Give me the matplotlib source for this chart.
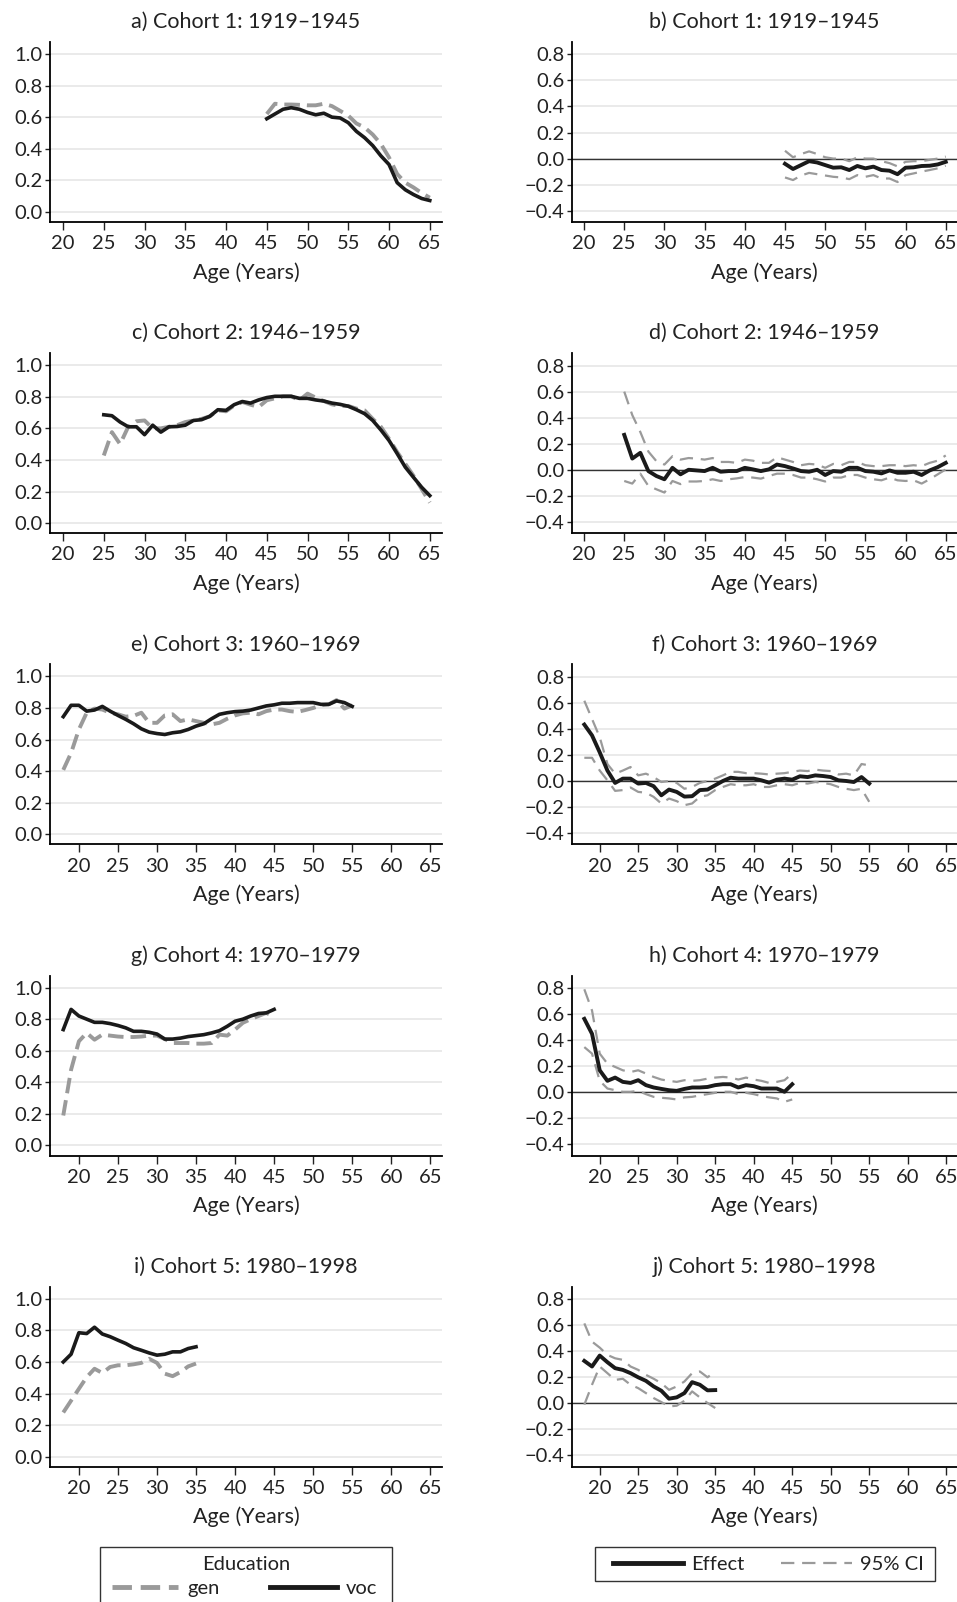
import numpy as np
import matplotlib
matplotlib.use("Agg")
import matplotlib.pyplot as plt
from matplotlib.lines import Line2D
from matplotlib.patches import Rectangle

plt.rcParams['font.family'] = ['Lato', 'DejaVu Sans']

# ---- data ----
ages_a = np.arange(45, 66)
a_voc = [0.59, 0.62, 0.65, 0.66, 0.65, 0.63, 0.615, 0.625, 0.60, 0.595, 0.565,
         0.51, 0.47, 0.42, 0.355, 0.30, 0.185, 0.14, 0.11, 0.085, 0.072]
a_gen = [0.62, 0.685, 0.68, 0.68, 0.678, 0.675, 0.675, 0.685, 0.67, 0.64, 0.61,
         0.56, 0.535, 0.49, 0.43, 0.345, 0.24, 0.185, 0.155, 0.12, 0.09]
b_eff = [-0.04, -0.08, -0.05, -0.02, -0.03, -0.05, -0.07, -0.067, -0.088, -0.057, -0.075,
         -0.062, -0.088, -0.093, -0.12, -0.07, -0.067, -0.057, -0.055, -0.045, -0.025]
b_hi = [0.06, 0.01, 0.035, 0.055, 0.035, 0.01, 0.0, 0.0, -0.02, 0.01, 0.0,
        0.0, -0.02, -0.035, -0.06, -0.025, -0.02, -0.02, -0.01, 0.0, 0.015]
b_lo = [-0.145, -0.165, -0.13, -0.11, -0.12, -0.13, -0.14, -0.145, -0.158, -0.127, -0.14,
        -0.127, -0.153, -0.153, -0.18, -0.127, -0.114, -0.1, -0.088, -0.075, -0.055]

ages_c = np.arange(25, 66)
c_voc = [0.686, 0.68, 0.64, 0.61, 0.61, 0.56, 0.62, 0.576, 0.61, 0.612,
         0.62, 0.65, 0.655, 0.676, 0.718, 0.714, 0.75, 0.77, 0.76, 0.78,
         0.795, 0.803, 0.803, 0.803, 0.79, 0.79, 0.78, 0.773, 0.76, 0.752,
         0.74, 0.718, 0.693, 0.65, 0.59, 0.523, 0.44, 0.354, 0.29, 0.227, 0.174]
c_gen = [0.428, 0.576, 0.50, 0.61, 0.645, 0.65, 0.60, 0.60, 0.61, 0.62,
         0.64, 0.65, 0.66, 0.676, 0.714, 0.708, 0.745, 0.767, 0.75, 0.735,
         0.778, 0.79, 0.803, 0.803, 0.778, 0.82, 0.795, 0.773, 0.752, 0.742,
         0.742, 0.725, 0.714, 0.66, 0.61, 0.534, 0.45, 0.375, 0.30, 0.216, 0.13]
d_eff = [0.268, 0.086, 0.13, -0.01, -0.048, -0.073, 0.015, -0.035, 0.0, -0.005,
         -0.01, 0.015, -0.015, -0.01, -0.01, 0.015, 0.003, -0.01, 0.003, 0.04,
         0.028, 0.01, -0.01, -0.015, 0.0, -0.04, -0.01, -0.015, 0.015, 0.015,
         -0.01, -0.015, -0.028, -0.005, -0.023, -0.023, -0.015, -0.04, -0.005, 0.02, 0.053]
d_hi = [0.60, 0.42, 0.29, 0.14, 0.066, 0.04, 0.104, 0.078, 0.09, 0.086,
        0.078, 0.09, 0.06, 0.06, 0.053, 0.078, 0.07, 0.053, 0.053, 0.096,
        0.078, 0.06, 0.035, 0.045, 0.04, 0.015, 0.045, 0.035, 0.06, 0.06,
        0.035, 0.028, 0.028, 0.035, 0.035, 0.028, 0.035, 0.028, 0.053, 0.07, 0.11]
d_lo = [-0.086, -0.106, -0.03, -0.124, -0.15, -0.175, -0.086, -0.11, -0.09, -0.09,
        -0.086, -0.073, -0.086, -0.073, -0.066, -0.056, -0.06, -0.068, -0.048, -0.03,
        -0.03, -0.04, -0.06, -0.06, -0.073, -0.09, -0.06, -0.06, -0.04, -0.04,
        -0.06, -0.073, -0.081, -0.06, -0.081, -0.086, -0.081, -0.106, -0.073, -0.035, 0.003]

ages_e = np.arange(18, 56)
e_voc = [0.745, 0.817, 0.817, 0.78, 0.787, 0.81, 0.78, 0.753, 0.728, 0.70,
         0.668, 0.647, 0.638, 0.632, 0.643, 0.649, 0.664, 0.685, 0.70, 0.732,
         0.76, 0.77, 0.777, 0.78, 0.787, 0.80, 0.813, 0.82, 0.83, 0.83,
         0.834, 0.834, 0.834, 0.823, 0.823, 0.845, 0.834, 0.81]
e_gen = [0.408, 0.515, 0.664, 0.77, 0.796, 0.79, 0.77, 0.76, 0.745, 0.75,
         0.77, 0.706, 0.706, 0.753, 0.76, 0.717, 0.728, 0.717, 0.706, 0.696,
         0.706, 0.732, 0.753, 0.766, 0.77, 0.76, 0.78, 0.79, 0.79, 0.78,
         0.775, 0.787, 0.80, 0.817, 0.823, 0.85, 0.796, 0.817]
f_eff = [0.433, 0.35, 0.22, 0.08, -0.015, 0.018, 0.018, -0.02, -0.015, -0.04,
         -0.11, -0.066, -0.084, -0.12, -0.117, -0.07, -0.066, -0.033, 0.0, 0.025,
         0.018, 0.018, 0.018, 0.005, -0.013, 0.01, 0.018, 0.01, 0.036, 0.03,
         0.043, 0.038, 0.03, 0.005, 0.0, -0.008, 0.03, -0.02]
f_hi = [0.616, 0.476, 0.336, 0.13, 0.056, 0.08, 0.107, 0.043, 0.056, 0.03,
        -0.008, 0.0, -0.015, -0.06, -0.046, -0.015, 0.0, 0.018, 0.043, 0.07,
        0.07, 0.06, 0.06, 0.056, 0.05, 0.056, 0.06, 0.07, 0.08, 0.076,
        0.087, 0.08, 0.076, 0.05, 0.056, 0.043, 0.13, 0.12]
f_lo = [0.178, 0.178, 0.08, 0.005, -0.076, -0.07, -0.05, -0.084, -0.09, -0.122,
        -0.173, -0.135, -0.155, -0.186, -0.173, -0.122, -0.11, -0.07, -0.046, -0.025,
        -0.033, -0.033, -0.025, -0.046, -0.046, -0.033, -0.025, -0.033, -0.015, -0.02,
        -0.008, -0.015, -0.025, -0.046, -0.06, -0.07, -0.06, -0.16]

ages_g = np.arange(18, 46)
g_voc = [0.734, 0.862, 0.82, 0.80, 0.78, 0.78, 0.772, 0.76, 0.745, 0.723,
         0.723, 0.717, 0.706, 0.674, 0.674, 0.68, 0.69, 0.696, 0.702, 0.713,
         0.727, 0.755, 0.787, 0.80, 0.82, 0.836, 0.84, 0.862]
g_gen = [0.19, 0.48, 0.66, 0.713, 0.67, 0.702, 0.696, 0.69, 0.687, 0.687,
         0.69, 0.696, 0.696, 0.674, 0.649, 0.649, 0.649, 0.645, 0.645, 0.649,
         0.702, 0.696, 0.734, 0.777, 0.80, 0.82, 0.84, 0.815]
h_eff = [0.563, 0.448, 0.168, 0.087, 0.112, 0.079, 0.071, 0.092, 0.054, 0.036,
         0.025, 0.015, 0.01, 0.025, 0.036, 0.036, 0.04, 0.054, 0.061, 0.061,
         0.036, 0.054, 0.046, 0.028, 0.028, 0.028, 0.003, 0.061]
h_hi = [0.79, 0.627, 0.296, 0.219, 0.194, 0.168, 0.155, 0.168, 0.143, 0.117,
        0.097, 0.087, 0.079, 0.092, 0.087, 0.092, 0.104, 0.112, 0.117, 0.112,
        0.097, 0.112, 0.097, 0.087, 0.071, 0.079, 0.092, 0.143]
h_lo = [0.346, 0.296, 0.087, 0.028, 0.015, 0.003, 0.003, 0.01, -0.015, -0.036,
        -0.043, -0.048, -0.056, -0.04, -0.036, -0.025, -0.015, -0.005, 0.003, 0.003,
        -0.015, -0.005, -0.015, -0.03, -0.04, -0.048, -0.074, -0.056]

ages_i = np.arange(18, 36)
i_voc = [0.60, 0.649, 0.785, 0.78, 0.82, 0.777, 0.76, 0.738, 0.717, 0.69,
         0.674, 0.657, 0.643, 0.649, 0.664, 0.664, 0.685, 0.696]
i_gen = [0.28, 0.355, 0.43, 0.504, 0.557, 0.53, 0.568, 0.579, 0.579, 0.585,
         0.594, 0.62, 0.594, 0.526, 0.51, 0.536, 0.572, 0.59]
j_eff = [0.326, 0.283, 0.367, 0.316, 0.27, 0.257, 0.232, 0.2, 0.173, 0.13,
         0.097, 0.036, 0.046, 0.079, 0.163, 0.143, 0.1, 0.102]
j_hi = [0.614, 0.474, 0.428, 0.372, 0.346, 0.334, 0.283, 0.257, 0.219, 0.189,
        0.155, 0.104, 0.13, 0.168, 0.232, 0.245, 0.2, 0.245]
j_lo = [-0.01, 0.143, 0.283, 0.232, 0.18, 0.189, 0.143, 0.117, 0.079, 0.041,
        0.01, -0.023, -0.018, 0.02, 0.092, 0.046, 0.003, -0.036]

cohorts = ["Cohort 1: 1919\u20131945", "Cohort 2: 1946\u20131959", "Cohort 3: 1960\u20131969",
           "Cohort 4: 1970\u20131979", "Cohort 5: 1980\u20131998"]
left_letters = ["a", "c", "e", "g", "i"]
right_letters = ["b", "d", "f", "h", "j"]
left_data = [(ages_a, a_gen, a_voc), (ages_c, c_gen, c_voc), (ages_e, e_gen, e_voc),
             (ages_g, g_gen, g_voc), (ages_i, i_gen, i_voc)]
right_data = [(ages_a, b_eff, b_lo, b_hi), (ages_c, d_eff, d_lo, d_hi), (ages_e, f_eff, f_lo, f_hi),
              (ages_g, h_eff, h_lo, h_hi), (ages_i, j_eff, j_lo, j_hi)]
xticks = [20, 25, 30, 35, 40, 45, 50, 55, 60, 65]

GRAY = "#9a9a9a"
TXT = "#222222"
FS = 14.5      # tick labels, legend
FS_T = 15.5    # titles, axis label
W, H = 957, 1602
fig = plt.figure(figsize=(W / 100, H / 100), dpi=100)


def style(ax):
    for s in ["top", "right"]:
        ax.spines[s].set_visible(False)
    ax.spines["left"].set_linewidth(1.3)
    ax.spines["bottom"].set_linewidth(1.3)
    ax.grid(axis="y", color="#e6e6e6", linewidth=1.2)
    ax.set_axisbelow(True)
    ax.tick_params(axis="x", length=6, width=1, labelsize=FS, pad=3.5, colors=TXT)
    ax.tick_params(axis="y", length=3.5, width=1, labelsize=FS, pad=2, colors=TXT)
    ax.set_xticks(xticks)
    ax.set_xlabel("Age (Years)", fontsize=FS_T, color=TXT, labelpad=7)


for r in range(5):
    top = 42 + 311.2 * r
    bottom = 1 - (top + 180) / H
    # left: probability by education
    axl = fig.add_axes([50 / W, bottom, 392 / W, 180 / H])
    ages, gen, voc = left_data[r]
    axl.plot(ages, gen, color=GRAY, lw=2.8, dashes=(4, 1.8))
    axl.plot(ages, voc, color="#1a1a1a", lw=2.6)
    style(axl)
    axl.set_xlim(18.4 if r < 2 else 16.3, 66.5)
    axl.set_ylim(-0.064, 1.076)
    axl.set_yticks([0.0, 0.2, 0.4, 0.6, 0.8, 1.0])
    axl.set_yticklabels(["0.0", "0.2", "0.4", "0.6", "0.8", "1.0"])
    axl.set_title(f"{left_letters[r]}) {cohorts[r]}", fontsize=FS_T, pad=10, color=TXT)

    # right: effect with CI
    axr = fig.add_axes([572 / W, bottom, 385 / W, 180 / H])
    ages, eff, lo, hi = right_data[r]
    axr.axhline(0, color="#333333", lw=1.0, zorder=1)
    axr.plot(ages, hi, color=GRAY, lw=1.6, dashes=(6, 3.5))
    axr.plot(ages, lo, color=GRAY, lw=1.6, dashes=(6, 3.5))
    axr.plot(ages, eff, color="#1a1a1a", lw=2.8)
    style(axr)
    axr.set_xlim(18.5 if r < 2 else 16.4, 66.4)
    axr.set_ylim(-0.487, 0.895)
    axr.set_yticks([-0.4, -0.2, 0.0, 0.2, 0.4, 0.6, 0.8])
    axr.set_yticklabels(["\u22120.4", "\u22120.2", "0.0", "0.2", "0.4", "0.6", "0.8"])
    axr.set_title(f"{right_letters[r]}) {cohorts[r]}", fontsize=FS_T, pad=10, color=TXT)

# ---- legends (frames drawn separately so the boxes match) ----
fig.add_artist(Rectangle((100 / W, 1 - 1612 / H), 292 / W, 65 / H, transform=fig.transFigure,
                         fill=False, edgecolor="#333333", lw=1.0))
fig.text(246 / W, 1 - 1564 / H, "Education", ha="center", va="center", fontsize=FS, color=TXT)
h_gen = Line2D([], [], color=GRAY, lw=3.5, dashes=(4, 1.8))
h_voc = Line2D([], [], color="#1a1a1a", lw=3.5)
fig.legend([h_gen, h_voc], ["gen", "voc"], ncol=2, loc="center left",
           bbox_to_anchor=(112 / W, 1 - 1588 / H), frameon=False, fontsize=FS,
           handlelength=3.3, columnspacing=2.5, handletextpad=0.45,
           borderpad=0, borderaxespad=0, labelcolor=TXT)

fig.add_artist(Rectangle((595 / W, 1 - 1581 / H), 340 / W, 34 / H, transform=fig.transFigure,
                         fill=False, edgecolor="#333333", lw=1.0))
h_eff = Line2D([], [], color="#1a1a1a", lw=3.5)
h_ci = Line2D([], [], color=GRAY, lw=1.6, dashes=(6, 3.5))
fig.legend([h_eff, h_ci], ["Effect", "95% CI"], ncol=2, loc="center left",
           bbox_to_anchor=(613 / W, 1 - 1564 / H), frameon=False, fontsize=FS,
           handlelength=3.5, columnspacing=1.8, handletextpad=0.4,
           borderpad=0, borderaxespad=0, labelcolor=TXT)

fig.savefig("out.png", dpi=100)
